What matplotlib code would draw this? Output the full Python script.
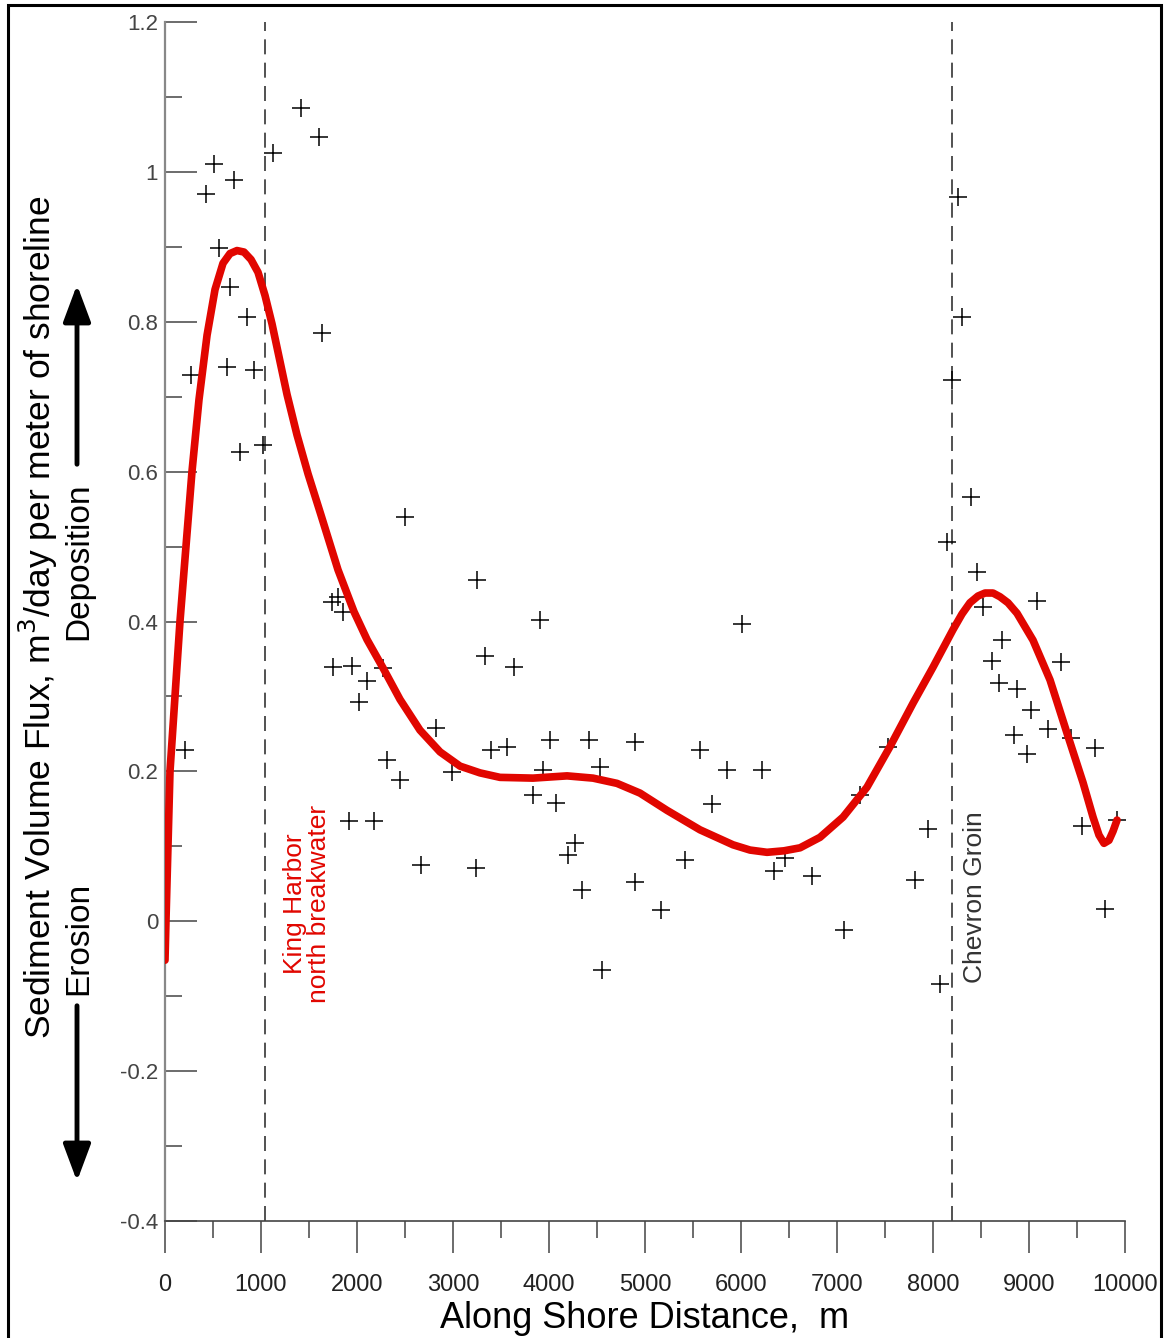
import matplotlib
matplotlib.use("Agg")
import matplotlib.pyplot as plt
from matplotlib.patches import FancyArrowPatch, Rectangle
from matplotlib.ticker import MultipleLocator, FuncFormatter

plt.rcParams["font.family"] = ["Liberation Sans", "DejaVu Sans"]

# --- measured points (along shore distance m, flux m3/day/m) ---
obs_x = [208, 271, 427, 510, 563, 677, 646, 719, 781, 854, 927, 1021, 1125, 1417,
         1604, 1635, 1740, 1802, 1854, 1750, 1948, 2271, 2104, 2021, 1917, 2177,
         2313, 2448, 2500, 2823, 2667, 2990, 3240, 3250, 3333, 3396, 3563, 3635,
         3833, 3906, 3938, 4010, 4073, 4198, 4271, 4344, 4417, 4531, 4552, 4896,
         4896, 5167, 5417, 5573, 5698, 5854, 6010, 6219, 6344, 6458, 6740, 7073,
         7240, 7531, 7813, 7948, 8073, 8146, 8198, 8260, 8302, 8396, 8458, 8521,
         8615, 8688, 8719, 8844, 8875, 8979, 9021, 9083, 9198, 9333, 9438, 9552,
         9688, 9792, 9917]
obs_y = [0.228, 0.729, 0.971, 1.010, 0.898, 0.847, 0.739, 0.989, 0.626, 0.806,
         0.736, 0.635, 1.025, 1.085, 1.046, 0.785, 0.426, 0.433, 0.413, 0.339,
         0.340, 0.338, 0.321, 0.293, 0.134, 0.134, 0.215, 0.189, 0.539, 0.258,
         0.075, 0.199, 0.071, 0.455, 0.354, 0.229, 0.232, 0.339, 0.168, 0.402,
         0.202, 0.242, 0.158, 0.089, 0.105, 0.042, 0.242, 0.206, -0.065, 0.239,
         0.052, 0.015, 0.082, 0.228, 0.156, 0.202, 0.396, 0.202, 0.067, 0.084,
         0.060, -0.012, 0.168, 0.232, 0.055, 0.123, -0.084, 0.506, 0.722, 0.966,
         0.806, 0.566, 0.466, 0.419, 0.347, 0.318, 0.375, 0.249, 0.310, 0.223,
         0.282, 0.427, 0.256, 0.346, 0.245, 0.127, 0.231, 0.016, 0.135]

# --- fitted trend curve ---
fit_x = [0, 10, 31, 52, 104, 156, 219, 281, 354, 438, 521, 604, 677, 750, 823,
         896, 969, 1042, 1115, 1188, 1271, 1375, 1490, 1625, 1802, 1969, 2104,
         2271, 2448, 2656, 2865, 3073, 3281, 3490, 3833, 4188, 4458, 4708, 4948,
         5229, 5573, 5917, 6094, 6271, 6448, 6615, 6823, 7063, 7313, 7552, 7792,
         8000, 8208, 8302, 8385, 8469, 8542, 8625, 8698, 8781, 8875, 9042, 9219,
         9396, 9563, 9667, 9729, 9781, 9833, 9875, 9917]
fit_y = [-0.052, 0.000, 0.100, 0.200, 0.300, 0.400, 0.501, 0.600, 0.696, 0.782,
         0.843, 0.878, 0.891, 0.895, 0.893, 0.883, 0.866, 0.835, 0.797, 0.753,
         0.703, 0.649, 0.597, 0.542, 0.469, 0.413, 0.376, 0.338, 0.296, 0.255,
         0.226, 0.207, 0.198, 0.192, 0.191, 0.194, 0.191, 0.184, 0.171, 0.148,
         0.122, 0.102, 0.095, 0.092, 0.094, 0.098, 0.112, 0.139, 0.179, 0.233,
         0.291, 0.339, 0.389, 0.410, 0.425, 0.434, 0.438, 0.438, 0.433, 0.425,
         0.411, 0.375, 0.322, 0.251, 0.185, 0.139, 0.115, 0.104, 0.108, 0.120,
         0.135]

structure_x = [1042, 8198]

W, H = 1164, 1338
fig = plt.figure(figsize=(W / 100, H / 100), dpi=100)


def fx(px):
    return px / W


def fy(py):
    return 1 - py / H


ax = fig.add_axes([fx(165), fy(1221), fx(1125) - fx(165), fy(22) - fy(1221)])

for xs in structure_x:
    ax.axvline(xs, color="#333333", lw=1.2, linestyle=(0, (9, 5)), zorder=1)

ax.plot(obs_x, obs_y, linestyle="none", marker="+", markersize=13,
        markeredgewidth=1.1, color="black", zorder=3)
ax.plot(fit_x, fit_y, color="#e10600", lw=5.5, solid_capstyle="round",
        solid_joinstyle="round", zorder=4)

ax.set_xlim(0, 10000)
ax.set_ylim(-0.4, 1.2)
for side in ["top", "right"]:
    ax.spines[side].set_visible(False)
ax.spines["left"].set_color("#888888")
ax.spines["left"].set_linewidth(1.6)
ax.spines["bottom"].set_color("#444444")
ax.spines["bottom"].set_linewidth(1.2)

ax.xaxis.set_major_locator(MultipleLocator(1000))
ax.xaxis.set_minor_locator(MultipleLocator(500))
ax.yaxis.set_major_locator(MultipleLocator(0.2))
ax.yaxis.set_minor_locator(MultipleLocator(0.1))
ax.yaxis.set_major_formatter(FuncFormatter(lambda v, p: "%g" % round(v, 1)))

ax.tick_params(axis="x", which="major", direction="out", length=23, width=1.1,
               color="#444444", labelsize=17, labelcolor="#222222", pad=15)
ax.tick_params(axis="x", which="minor", direction="out", length=12, width=1.1,
               color="#444444")
ax.tick_params(axis="y", which="major", direction="in", length=23, width=1.1,
               color="#444444", labelsize=16, labelcolor="#444444", pad=5)
ax.tick_params(axis="y", which="minor", direction="in", length=12, width=1.1,
               color="#444444")

ax.text(1479, 0.023, "King Harbor\nnorth breakwater", rotation=90, ha="center",
        va="center", multialignment="center", color="#e10600", fontsize=19,
        linespacing=1.05)
ax.text(8437, 0.032, "Chevron Groin", rotation=90, ha="center", va="center",
        color="#333333", fontsize=19)

ax.set_xlabel("Along Shore Distance,  m", fontsize=26, labelpad=4)

# y label with deposition / erosion arrows
fig.text(fx(38), fy(617), "Sediment Volume Flux, m$^3$/day per meter of shoreline",
         rotation=90, ha="center", va="center", fontsize=25.5)
fig.text(fx(79), fy(561), "Deposition", rotation=90, ha="center", va="center",
         fontsize=24)
fig.text(fx(79), fy(938), "Erosion", rotation=90, ha="center", va="center",
         fontsize=24)
for start, end in [((77, 467), (77, 282)), ((77, 1003), (77, 1184))]:
    arr = FancyArrowPatch((fx(start[0]), fy(start[1])), (fx(end[0]), fy(end[1])),
                          transform=fig.transFigure,
                          arrowstyle="-|>,head_length=0.75,head_width=0.28",
                          mutation_scale=30, lw=3.5, color="black")
    fig.add_artist(arr)

# outer frame
fig.add_artist(Rectangle((fx(8), fy(1345)), fx(1161) - fx(8), fy(5) - fy(1345),
                         transform=fig.transFigure, fill=False, lw=2.2,
                         edgecolor="black"))

fig.savefig("out.png", dpi=100)
